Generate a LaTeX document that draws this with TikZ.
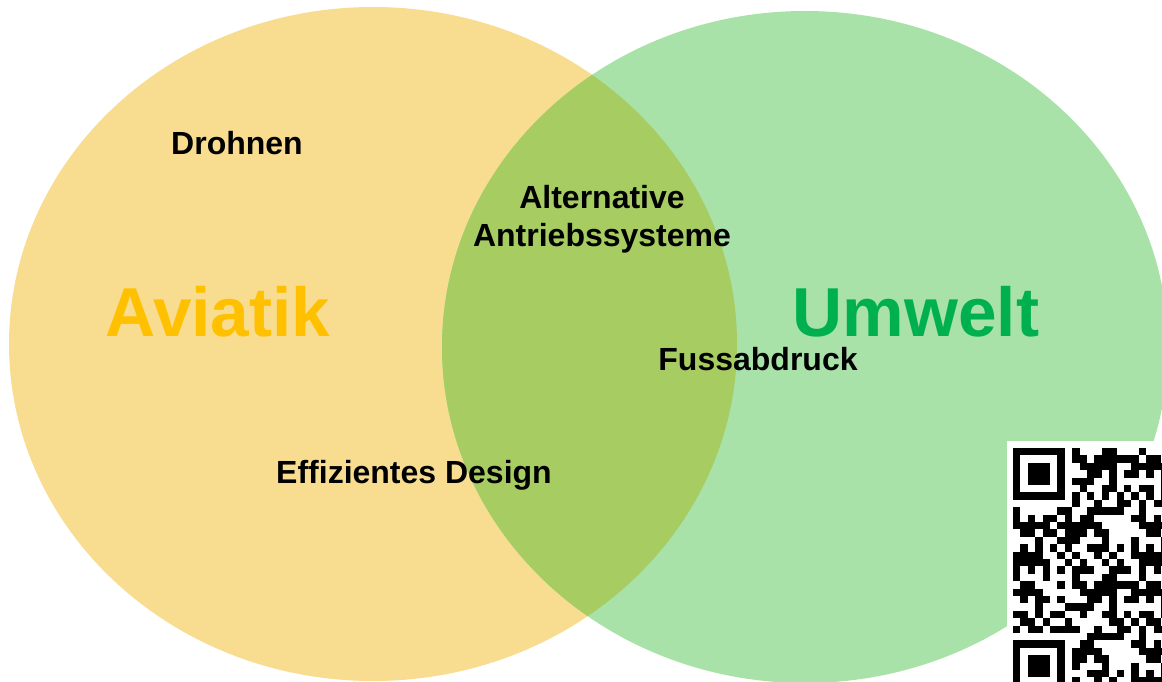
\documentclass[tikz,border=0pt]{standalone}
\usepackage{fontspec}
\setmainfont{Liberation Sans}
\usepackage{tikz}
\usetikzlibrary{positioning, backgrounds}
\pgfdeclarelayer{myback}
\pgfsetlayers{myback,background,main}
\definecolor{aviayellow}{HTML}{F8DD90}
\definecolor{umweltgreen}{HTML}{A8E2A8}
\definecolor{overlapgreen}{HTML}{A6CC62}
\definecolor{aviatext}{HTML}{FFC000}
\definecolor{umwelttext}{HTML}{00B050}
\tikzset{setlabel/.style = {font=\fontsize{69.3}{80}\selectfont\bfseries, text=#1, inner sep=0pt},
	itemlabel/.style = {font=\fontsize{32}{38}\selectfont\bfseries, align=center, inner sep=0pt}}
\def\qm{7.4}
\NewDocumentCommand{\qrfinder}{m m}{%
	\fill[black] (#1,#2) rectangle ++(7*\qm,7*\qm);
	\fill[white] (#1+\qm,#2+\qm) rectangle ++(5*\qm,5*\qm);
	\fill[black] (#1+2*\qm,#2+2*\qm) rectangle ++(3*\qm,3*\qm);
}
\begin{document}
\begin{tikzpicture}[x=1pt,y=-1pt]
\useasboundingbox (0,0) rectangle (1162,682);
\clip (0,0) rectangle (1162,682);
\begin{pgfonlayer}{myback}
\fill[aviayellow] (373,344) ellipse [x radius=364, y radius=337];
\fill[umweltgreen] (805,347) ellipse [x radius=363, y radius=336];
\begin{scope}
	\clip (373,344) ellipse [x radius=364, y radius=337];
	\fill[overlapgreen] (805,347) ellipse [x radius=363, y radius=336];
\end{scope}
\end{pgfonlayer}
% set names
\node[setlabel=aviatext] (aviatik) at (218,312) {Aviatik};
\node[setlabel=umwelttext] (umwelt) at (916,312) {Umwelt};
% items
\node[itemlabel] (drohnen) at (237,143) {Drohnen};
\node[itemlabel] (antrieb) at (602,219) {Alternative\\Antriebssysteme};
\node[itemlabel] (fuss) at (758,359) {Fussabdruck};
\node[itemlabel] (design) at (414,475) {Effizientes Design};
% qr code
\fill[white] (1007,441) rectangle (1162,682);
\begin{scope}
\clip (1007,441) rectangle (1162,682);
\foreach \r in {0,...,32}{
	\foreach \c in {0,...,20}{
		\pgfmathtruncatemacro{\bit}{mod(\r*\r*3+\c*\c*5+\r*\c*7+\c*11+\r*13,17)<8}
		\ifnum\r=6 \pgfmathtruncatemacro{\bit}{1-mod(\c,2)}\fi
		\ifnum\c=6 \pgfmathtruncatemacro{\bit}{1-mod(\r,2)}\fi
		\ifnum\c<8 \ifnum\r<8 \def\bit{0}\fi \ifnum\r>24 \def\bit{0}\fi \fi
		\ifnum\bit=1
			\fill[black] (1013+\c*\qm,448+\r*\qm) rectangle ++(\qm,\qm);
		\fi
	}
}
\qrfinder{1013}{448}
\qrfinder{1013}{640.4}
\end{scope}
\end{tikzpicture}
\end{document}
